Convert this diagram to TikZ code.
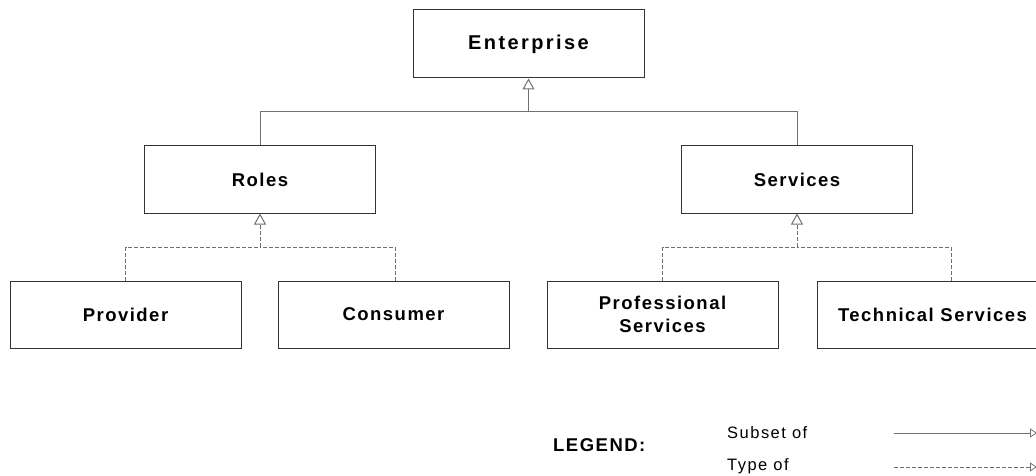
\documentclass[tikz,border=0pt]{standalone}
\usepackage{fontspec}
\setmainfont{Liberation Sans}[LetterSpace=8]
\newfontfamily\titlefont{Liberation Sans}[LetterSpace=12]
\newfontfamily\legendfont{Liberation Sans}[LetterSpace=9]
\usetikzlibrary{arrows.meta}
\definecolor{boxline}{HTML}{333333}
\definecolor{linkline}{HTML}{707070}
\tikzset{
  box/.style={draw=boxline, line width=1pt, fill=white, minimum width=231pt,
    minimum height=67pt, inner sep=0pt, align=center, font=\fontsize{18.5}{22.5}\selectfont\bfseries},
  link/.style={draw=linkline, line width=1pt},
  typelink/.style={link, dash pattern=on 4pt off 2pt},
  hollow/.style={-{Triangle[open, width=12pt, length=11pt, line width=1pt]}},
  smallhollow/.style={-{Triangle[open, width=9pt, length=7pt, line width=0.8pt]}},
  legendtext/.style={anchor=west, inner sep=0pt, font=\legendfont\fontsize{16.5}{19}\selectfont}
}
\begin{document}
\begin{tikzpicture}[x=1pt, y=-1pt]
  \useasboundingbox (0,0) rectangle (1036,476);
  \clip (0,0) rectangle (1036,476);

  % entity boxes
  \node[box, minimum height=68pt, font=\titlefont\fontsize{20}{24}\selectfont\bfseries] (ent) at (528.5,44) {Enterprise};
  \node[box] (roles) at (260,179.5) {Roles};
  \node[box] (serv) at (797,179.5) {Services};
  \node[box] (prov) at (125.5,314.5) {Provider};
  \node[box] (cons) at (393.5,314.5) {Consumer};
  \node[box] (prof) at (662.5,314.5) {Professional\\Services};
  \node[box] (tech) at (932.5,314.5) {Technical Services};

  % junction points of the connector trees
  \coordinate (j0) at (528.5,112);
  \coordinate (jr) at (260,247);
  \coordinate (js) at (797,247);

  % subset-of links
  \draw[link] (roles.north) |- (j0);
  \draw[link] (serv.north) |- (j0);
  \draw[link, hollow] (j0) -- (ent.south);

  % type-of links
  \draw[typelink] (prov.north) |- (jr);
  \draw[typelink] (cons.north -| 395,0) |- (jr);
  \draw[typelink, hollow] (jr) -- (roles.south);
  \draw[typelink] (prof.north) |- (js);
  \draw[typelink] (tech.north -| 951,0) |- (js);
  \draw[typelink, hollow] (js) -- (serv.south);

  % legend
  \node[anchor=west, inner sep=0pt, font=\fontsize{18.5}{22}\selectfont\bfseries] (leg) at (553,445) {LEGEND:};
  \node[legendtext] (sub) at (727,433) {Subset of};
  \node[legendtext] (typ) at (727,466) {Type of};
  \coordinate (s0) at (894,433);
  \coordinate (s1) at (1037,433);
  \coordinate (t0) at (894,467);
  \coordinate (t1) at (1037,467);
  \draw[link, smallhollow] (s0) -- (s1);
  \draw[typelink, smallhollow] (t0) -- (t1);
\end{tikzpicture}
\end{document}
